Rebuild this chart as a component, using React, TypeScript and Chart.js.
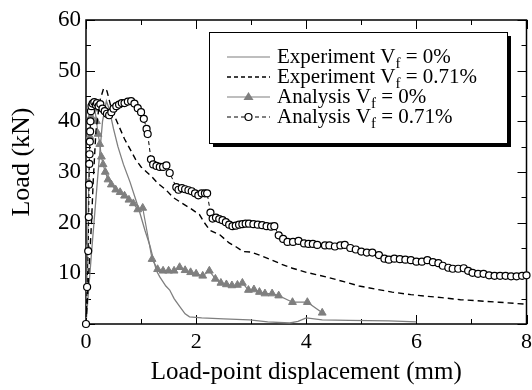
import { useEffect, useRef } from 'react';
import { Chart, registerables } from 'chart.js';

Chart.register(...registerables);

const FONT = '"Liberation Serif", "Times New Roman", serif';

// Experiment Vf = 0%
const exp0X = [0, 0.1, 0.22, 0.3, 0.37, 0.42, 0.5, 0.58, 0.68, 0.8, 0.95, 1.07, 1.16, 1.23, 1.28, 1.34, 1.45, 1.52, 1.6, 1.7, 1.8, 1.88, 2.1, 2.5, 2.97, 3.3, 3.7, 3.85, 4.0, 4.29, 4.78, 5.5, 6.0];
const exp0Y = [0, 14, 30, 40, 44, 42.5, 38.5, 35, 31.5, 28, 23, 18.5, 15.5, 12.5, 10.5, 9.3, 7.5, 6.7, 5, 3.5, 2, 1.4, 1.2, 1.0, 0.8, 0.4, 0.2, 0.5, 1.2, 0.8, 0.7, 0.6, 0.4];

// Experiment Vf = 0.71%
const exp071X = [0, 0.05, 0.1, 0.13, 0.18, 0.25, 0.32, 0.38, 0.45, 0.52, 0.6, 0.7, 0.8, 0.9, 1.0, 1.1, 1.2, 1.3, 1.45, 1.58, 1.75, 1.9, 2.06, 2.15, 2.25, 2.43, 2.6, 2.73, 2.85, 3.0, 3.2, 3.38, 3.55, 3.75, 4.0, 4.36, 4.7, 4.96, 5.3, 5.56, 5.9, 6.17, 6.46, 6.8, 7.08, 7.5, 8.0];
const exp071Y = [0, 10, 20, 28, 38, 44, 46.5, 46, 43, 41, 39, 36.5, 34.5, 32.5, 31, 30, 29, 27.8, 26.5, 25, 23.8, 22.8, 21.6, 20, 18.5, 17.6, 16, 15.2, 14.3, 14.2, 13.4, 12.6, 11.8, 11, 10.2, 9.3, 8.3, 7.5, 6.8, 6.3, 5.8, 5.5, 5.2, 4.8, 4.6, 4.3, 3.9];

// Analysis Vf = 0%
const ana0X = [0, 0.03, 0.05, 0.07, 0.09, 0.12, 0.16, 0.19, 0.22, 0.25, 0.28, 0.31, 0.35, 0.4, 0.46, 0.54, 0.62, 0.7, 0.78, 0.86, 0.94, 1.03, 1.2, 1.3, 1.4, 1.5, 1.6, 1.7, 1.8, 1.9, 2.0, 2.12, 2.24, 2.35, 2.45, 2.55, 2.65, 2.75, 2.84, 2.95, 3.05, 3.15, 3.25, 3.38, 3.5, 3.75, 4.02, 4.29];
const ana0Y = [0, 15, 28, 37, 41, 43, 42.5, 40, 37.5, 35.5, 33, 31.5, 30, 28.5, 27.5, 26.5, 26, 25.3, 24.5, 23.8, 22.6, 22.9, 12.8, 10.8, 10.5, 10.5, 10.5, 11.2, 10.6, 10.2, 9.9, 9.5, 10.5, 8.9, 8.1, 7.8, 7.6, 7.7, 8.1, 6.7, 6.8, 6.3, 6.0, 6.0, 5.6, 4.3, 4.3, 2.2];

// Analysis Vf = 0.71%
const ana071X = [0, 0.02, 0.04, 0.05, 0.055, 0.06, 0.065, 0.07, 0.075, 0.08, 0.09, 0.1, 0.12, 0.15, 0.18, 0.2, 0.23, 0.26, 0.3, 0.34, 0.38, 0.42, 0.46, 0.5, 0.55, 0.6, 0.65, 0.7, 0.76, 0.82, 0.88, 0.94, 1.0, 1.05, 1.1, 1.12, 1.18, 1.22, 1.28, 1.34, 1.4, 1.46, 1.52, 1.64, 1.68, 1.74, 1.8, 1.86, 1.92, 1.98, 2.04, 2.1, 2.16, 2.2, 2.26, 2.3, 2.36, 2.42, 2.48, 2.54, 2.6, 2.66, 2.72, 2.78, 2.84, 2.9, 2.96, 3.04, 3.12, 3.2, 3.28, 3.36, 3.42, 3.5, 3.58, 3.66, 3.76, 3.86, 3.96, 4.04, 4.12, 4.2, 4.34, 4.42, 4.52, 4.62, 4.7, 4.8, 4.9, 5.0, 5.1, 5.2, 5.32, 5.42, 5.5, 5.6, 5.7, 5.8, 5.9, 6.0, 6.1, 6.2, 6.3, 6.4, 6.48, 6.58, 6.66, 6.76, 6.86, 6.94, 7.02, 7.12, 7.22, 7.32, 7.42, 7.52, 7.62, 7.72, 7.82, 7.92, 8.0];
const ana071Y = [0, 7.3, 14.4, 21.1, 27.5, 31.6, 33.5, 36, 38, 40, 42, 43, 43.5, 43.8, 43.2, 43.6, 43, 43.4, 42.5, 42, 41.5, 41.2, 41.8, 42.5, 43, 43.3, 43.6, 43.6, 43.9, 44, 43.5, 42.6, 41.8, 40.5, 38.5, 37.5, 32.5, 31.5, 31.2, 31, 31, 31.3, 29.8, 27, 26.5, 26.8, 26.6, 26.4, 26.2, 25.8, 25.4, 25.8, 25.8, 25.8, 22, 20.8, 21, 20.7, 20.5, 20.1, 19.6, 19.3, 19.4, 19.6, 19.7, 19.8, 19.8, 19.7, 19.6, 19.5, 19.3, 19.2, 19.3, 17.5, 16.8, 16.2, 16.2, 16.4, 15.9, 15.8, 15.8, 15.6, 15.5, 15.5, 15.3, 15.5, 15.6, 15, 14.7, 14.3, 14.1, 14.1, 13.6, 12.9, 12.7, 12.9, 12.8, 12.7, 12.6, 12.3, 12.3, 12.6, 12.2, 12, 11.5, 11.1, 10.9, 10.9, 11, 10.5, 10.1, 9.9, 9.9, 9.6, 9.5, 9.5, 9.5, 9.4, 9.4, 9.5, 9.6];

const legendLabels = ['Experiment V', 'Experiment V', 'Analysis V', 'Analysis V'];
const legendValues = [' = 0%', ' = 0.71%', ' = 0%', ' = 0.71%'];

const xTitle = 'Load-point displacement (mm)';
const yTitle = 'Load (kN)';

const GRAY = '#7f7f7f';

const toPts = (xs: number[], ys: number[]) => xs.map((x, i) => ({ x, y: ys[i] }));

const framePlugin = {
  id: 'frame',
  beforeDatasetsDraw(chart: any) {
    const { ctx, chartArea: a, scales } = chart;
    const xs = scales.x;
    const ys = scales.y;
    ctx.save();
    ctx.strokeStyle = '#000';
    ctx.lineWidth = 1;
    ctx.beginPath();
    for (let v = 0; v <= 8; v += 1) {
      const px = Math.round(xs.getPixelForValue(v)) + 0.5;
      const len = v % 2 === 0 ? 9 : 5;
      ctx.moveTo(px, a.bottom);
      ctx.lineTo(px, a.bottom - len);
      ctx.moveTo(px, a.top);
      ctx.lineTo(px, a.top + len);
    }
    for (let v = 0; v <= 60; v += 5) {
      const py = Math.round(ys.getPixelForValue(v)) + 0.5;
      const len = v % 10 === 0 ? 9 : 5;
      ctx.moveTo(a.left, py);
      ctx.lineTo(a.left + len, py);
      ctx.moveTo(a.right, py);
      ctx.lineTo(a.right - len, py);
    }
    ctx.stroke();
    ctx.lineWidth = 1.5;
    ctx.strokeRect(a.left, a.top, a.right - a.left, a.bottom - a.top);
    ctx.restore();
  },
  afterDraw(chart: any) {
    const { ctx } = chart;
    ctx.save();
    ctx.translate(22, 162);
    ctx.rotate(-Math.PI / 2);
    ctx.fillStyle = '#000';
    ctx.font = `26px ${FONT}`;
    ctx.textAlign = 'center';
    ctx.textBaseline = 'middle';
    ctx.fillText(yTitle, 0, 0);
    ctx.restore();
  },
};

const legendPlugin = {
  id: 'customLegend',
  afterDraw(chart: any) {
    const { ctx } = chart;
    const bx = 209, by = 32, bw = 298, bh = 111;
    ctx.save();
    ctx.fillStyle = '#000';
    ctx.fillRect(bx + 4, by + 4, bw, bh);
    ctx.fillStyle = '#fff';
    ctx.fillRect(bx, by, bw, bh);
    ctx.strokeStyle = '#000';
    ctx.lineWidth = 1;
    ctx.strokeRect(bx + 0.5, by + 0.5, bw, bh);

    const styles = [
      { color: GRAY, dash: [], width: 1.2, marker: null },
      { color: '#000', dash: [4, 3], width: 1.3, marker: null },
      { color: GRAY, dash: [], width: 1.2, marker: 'tri' },
      { color: '#000', dash: [4, 3], width: 1, marker: 'circ' },
    ];
    for (let i = 0; i < 4; i++) {
      const base = 63 + i * 20;
      const cy = base - 6;
      const s = styles[i];
      ctx.strokeStyle = s.color;
      ctx.lineWidth = s.width;
      ctx.setLineDash(s.dash);
      ctx.beginPath();
      ctx.moveTo(227, cy);
      ctx.lineTo(270, cy);
      ctx.stroke();
      ctx.setLineDash([]);
      if (s.marker === 'tri') {
        ctx.fillStyle = GRAY;
        ctx.beginPath();
        ctx.moveTo(248.5, cy - 5);
        ctx.lineTo(253.5, cy + 3);
        ctx.lineTo(243.5, cy + 3);
        ctx.closePath();
        ctx.fill();
      } else if (s.marker === 'circ') {
        ctx.fillStyle = '#fff';
        ctx.strokeStyle = '#000';
        ctx.lineWidth = 1.2;
        ctx.beginPath();
        ctx.arc(248.5, cy, 3.5, 0, Math.PI * 2);
        ctx.fill();
        ctx.stroke();
      }
      ctx.fillStyle = '#000';
      ctx.textBaseline = 'alphabetic';
      ctx.textAlign = 'left';
      ctx.font = `21px ${FONT}`;
      let x = 277;
      ctx.fillText(legendLabels[i], x, base);
      x += ctx.measureText(legendLabels[i]).width;
      ctx.font = `15px ${FONT}`;
      ctx.fillText('f', x, base + 5);
      x += ctx.measureText('f').width;
      ctx.font = `21px ${FONT}`;
      ctx.fillText(legendValues[i], x, base);
    }
    ctx.restore();
  },
};

export default function App() {
  const ref = useRef<HTMLCanvasElement>(null);
  useEffect(() => {
    const canvas = ref.current;
    if (!canvas) return;
    const chart = new Chart(canvas, {
      type: 'line',
      data: {
        datasets: [
          {
            label: 'Analysis Vf = 0.71%',
            data: toPts(ana071X, ana071Y),
            borderColor: '#000',
            borderWidth: 1,
            borderDash: [4, 3],
            pointStyle: 'circle',
            pointRadius: 3.5,
            pointBorderWidth: 1.2,
            pointBackgroundColor: '#fff',
            pointBorderColor: '#000',
            fill: false,
            tension: 0,
            clip: false as any,
          },
          {
            label: 'Experiment Vf = 0.71%',
            data: toPts(exp071X, exp071Y),
            borderColor: '#000',
            borderWidth: 1.4,
            borderDash: [6, 4],
            pointRadius: 0,
            fill: false,
            tension: 0,
          },
          {
            label: 'Analysis Vf = 0%',
            data: toPts(ana0X, ana0Y),
            borderColor: GRAY,
            borderWidth: 1.2,
            pointStyle: 'triangle',
            pointRadius: 4.5,
            pointBackgroundColor: GRAY,
            pointBorderColor: GRAY,
            pointBorderWidth: 1,
            fill: false,
            tension: 0,
          },
          {
            label: 'Experiment Vf = 0%',
            data: toPts(exp0X, exp0Y),
            borderColor: GRAY,
            borderWidth: 1.3,
            pointRadius: 0,
            fill: false,
            tension: 0,
          },
        ],
      },
      options: {
        animation: false,
        responsive: false,
        devicePixelRatio: 1,
        layout: { padding: { top: 20, right: 4, left: 0, bottom: 0 } },
        plugins: { legend: { display: false }, tooltip: { enabled: false } },
        scales: {
          x: {
            type: 'linear',
            min: 0,
            max: 8,
            grid: { display: false, drawTicks: false },
            border: { display: false },
            ticks: {
              stepSize: 2,
              padding: 5,
              color: '#000',
              font: { family: FONT, size: 22 },
              maxRotation: 0,
            },
            title: {
              display: true,
              text: xTitle,
              color: '#000',
              font: { family: FONT, size: 25 },
              padding: { top: 0, bottom: 3 },
            },
            afterFit: (s: any) => {
              s.height = 66;
              s.paddingLeft = 0;
              s.paddingRight = 0;
            },
          },
          y: {
            type: 'linear',
            min: 0,
            max: 60,
            grid: { display: false, drawTicks: false },
            border: { display: false },
            ticks: {
              stepSize: 10,
              padding: 5,
              color: '#000',
              font: { family: FONT, size: 23 },
              callback: (v: any) => (v === 0 ? '' : String(v)),
            },
            title: { display: false },
            afterFit: (s: any) => {
              s.width = 86;
              s.paddingTop = 0;
              s.paddingBottom = 0;
            },
          },
        },
      },
      plugins: [framePlugin, legendPlugin],
    });
    return () => chart.destroy();
  }, []);
  return (
    <div style={{ position: 'absolute', left: 0, top: 0, width: 532, height: 390, background: '#fff' }}>
      <canvas ref={ref} width={532} height={390} style={{ width: 532, height: 390 }} />
    </div>
  );
}
